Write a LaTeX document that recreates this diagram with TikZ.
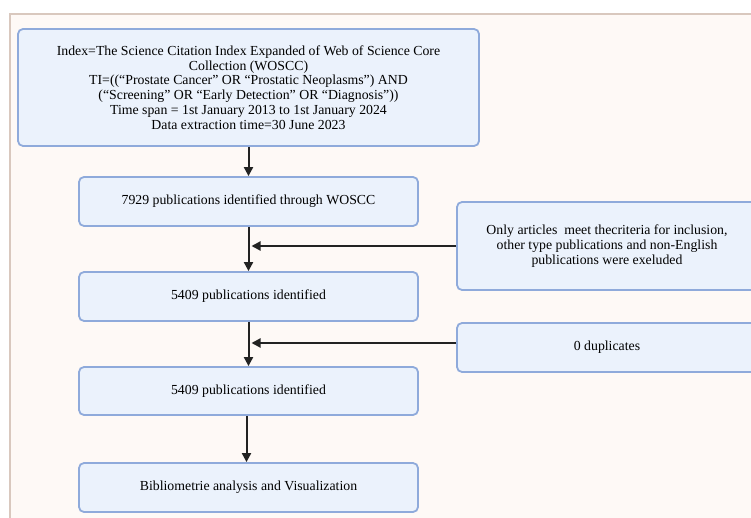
\documentclass[tikz,border=0pt]{standalone}
\usepackage{fontspec}
\setmainfont{Liberation Serif}
\usepackage{xcolor}
\usetikzlibrary{arrows.meta}

\definecolor{panelbg}{HTML}{FEF9F6}
\definecolor{panelline}{HTML}{D9C8BE}
\definecolor{boxbg}{HTML}{EBF2FC}
\definecolor{boxline}{HTML}{8FAADB}
\definecolor{arrowcol}{HTML}{222222}

\begin{document}
\begin{tikzpicture}[x=1pt, y=-1pt,
    box/.style={draw=boxline, fill=boxbg, line width=1.8pt, rounded corners=5pt,
        align=center, inner sep=0pt, font=\fontsize{13.8}{14.8}\selectfont},
    arr/.style={draw=arrowcol, line width=2pt, -{Triangle[length=9pt,width=9pt]}}]
\useasboundingbox (0,0) rectangle (751,518);
\begin{scope}
\clip (0,0) rectangle (751,518);
% background panel
\draw[fill=panelbg, draw=panelline, line width=2pt] (9.5,14.5) rectangle (770,540);
\node[box, minimum width=461pt, minimum height=117pt] (search) at (248.5,87.5)
    {Index=The Science Citation Index Expanded of Web of Science Core\\
     Collection (WOSCC)\\
     TI=((``Prostate Cancer'' OR ``Prostatic Neoplasms'') AND\\
     (``Screening'' OR ``Early Detection'' OR ``Diagnosis''))\\
     Time span = 1st January 2013 to 1st January 2024\\
     Data extraction time=30 June 2023};
\node[box, minimum width=339pt, minimum height=49pt] (found) at (248.5,201.5)
    {7929 publications identified through WOSCC};
\node[box, minimum width=339pt, minimum height=49pt] (kept) at (248.5,296.5)
    {5409 publications identified};
\node[box, minimum width=339pt, minimum height=48pt] (dedup) at (248.5,391)
    {5409 publications identified};
\node[box, minimum width=339pt, minimum height=49pt] (biblio) at (248.5,487.5)
    {Bibliometrie analysis and Visualization};
% exclusion boxes on the right
\node[box, minimum width=300pt, minimum height=88pt] (exclude) at (607,246)
    {Only articles\ \ meet thecriteria for inclusion,\\
     other type publications and non-English\\
     publications were exeluded};
\node[box, minimum width=300pt, minimum height=49pt] (dupl) at (607,347.5)
    {0 duplicates};
\end{scope}
\draw[arr] (search) -- (found);
\draw[arr] (found) -- (kept);
\draw[arr] (kept) -- (dedup);
\draw[arr] ([xshift=-2pt]dedup.south) -- ([xshift=-2pt]biblio.north);
\draw[arr, shorten >=3pt] (exclude.west) -- (exclude.west -| found.south);
\draw[arr, shorten >=3pt] ([yshift=4.5pt]dupl.west) -- ([yshift=4.5pt]dupl.west -| kept.south);
\end{tikzpicture}
\end{document}
